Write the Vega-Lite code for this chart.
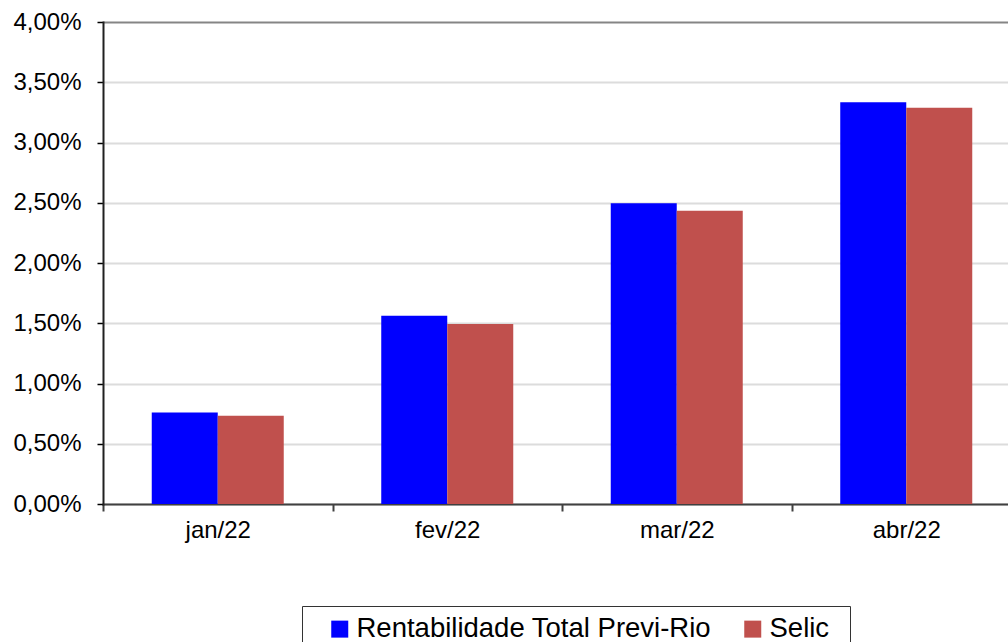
{
  "$schema": "https://vega.github.io/schema/vega-lite/v6.json",
  "autosize": {"type": "none"},
  "padding": {"left": 103, "top": 22, "right": 0, "bottom": 138},
  "width": 905,
  "height": 482,
  "background": "white",
  "data": {
    "values": [
      {"mes": "jan/22", "serie": "Rentabilidade Total Previ-Rio", "valor": 0.0076},
      {"mes": "jan/22", "serie": "Selic", "valor": 0.00732},
      {"mes": "fev/22", "serie": "Rentabilidade Total Previ-Rio", "valor": 0.01563},
      {"mes": "fev/22", "serie": "Selic", "valor": 0.01493},
      {"mes": "mar/22", "serie": "Rentabilidade Total Previ-Rio", "valor": 0.02495},
      {"mes": "mar/22", "serie": "Selic", "valor": 0.02434},
      {"mes": "abr/22", "serie": "Rentabilidade Total Previ-Rio", "valor": 0.03333},
      {"mes": "abr/22", "serie": "Selic", "valor": 0.03289}
    ]
  },
  "mark": {"type": "bar"},
  "encoding": {
    "x": {
      "field": "mes",
      "type": "nominal",
      "sort": ["jan/22", "fev/22", "mar/22", "abr/22"],
      "scale": {"range": [0, 918], "paddingInner": 0, "paddingOuter": 0},
      "axis": {
        "title": null,
        "labelAngle": 0,
        "tickBand": "extent",
        "tickSize": 7,
        "tickWidth": 2,
        "tickColor": "#404040",
        "domainColor": "#404040",
        "domainWidth": 2,
        "labelPadding": 7,
        "labelFontSize": 24,
        "labelFont": "Liberation Sans",
        "labelColor": "#000000",
        "grid": false
      }
    },
    "xOffset": {
      "field": "serie",
      "type": "nominal",
      "scale": {"paddingInner": 0, "paddingOuter": 0.7386}
    },
    "y": {
      "field": "valor",
      "type": "quantitative",
      "scale": {"domain": [0, 0.04], "nice": false},
      "axis": {
        "title": null,
        "values": [0, 0.005, 0.01, 0.015, 0.02, 0.025, 0.03, 0.035, 0.04],
        "labelExpr": "replace(format(datum.value, '.2%'), '.', ',')",
        "tickSize": 6,
        "tickWidth": 1.5,
        "tickColor": "#000000",
        "domainColor": "#202020",
        "domainWidth": 2,
        "labelPadding": 16,
        "labelFontSize": 24,
        "labelFont": "Liberation Sans",
        "labelColor": "#000000",
        "gridWidth": 2,
        "gridColor": {"condition": {"test": "datum.value >= 0.0399", "value": "#858585"}, "value": "#dcdcdc"}
      }
    },
    "color": {
      "field": "serie",
      "type": "nominal",
      "scale": {"domain": ["Rentabilidade Total Previ-Rio", "Selic"], "range": ["#0000FF", "#C0504D"]},
      "legend": {
        "title": "\u00a0",
        "titleOrient": "right",
        "titlePadding": 12,
        "titleFontSize": 26,
        "titleFont": "Liberation Sans",
        "orient": "none",
        "direction": "horizontal",
        "legendX": 199,
        "legendY": 584,
        "padding": 9,
        "strokeColor": "#333333",
        "fillColor": "white",
        "symbolType": "square",
        "symbolSize": 289,
        "symbolOffset": 15,
        "symbolStrokeWidth": 0,
        "labelFontSize": 27.5,
        "labelFont": "Liberation Sans",
        "labelColor": "#000000",
        "labelOffset": 3,
        "columnPadding": 12,
        "labelLimit": 500
      }
    }
  },
  "config": {
    "view": {"stroke": null},
    "axis": {"domainCap": "square"}
  }
}
